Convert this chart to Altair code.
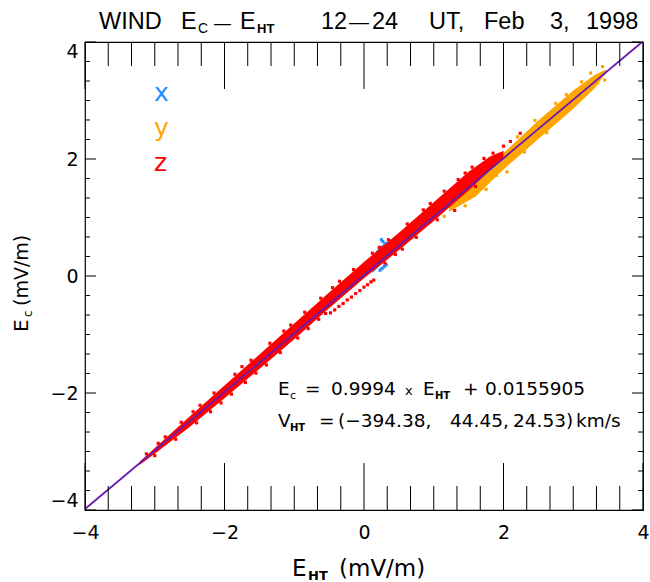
import altair as alt
import pandas as pd

# ---------------- data ----------------
components = ["x", "y", "z"]
comp_colors = ["#1E90FF", "#FFA500", "#FF0000"]

fit_slope = 0.9994
fit_intercept = 0.0155905
fit_x = [-4.0, 4.0]

# envelopes of the dense point clouds (E_HT, lower E_c, upper E_c)
z_band_x = [-3.22, -3.0, -2.5, -2.0, -1.5, -1.0, -0.5, 0.0, 0.5, 1.0, 1.5, 1.8, 2.0]
z_band_hi = [-3.18, -2.94, -2.40, -1.87, -1.34, -0.81, -0.28, 0.24, 0.74, 1.26, 1.78, 2.04, 2.14]
z_band_lo = [-3.23, -3.04, -2.58, -2.09, -1.59, -1.08, -0.55, -0.04, 0.44, 0.94, 1.46, 1.80, 2.02]

y_band_x = [1.22, 1.6, 2.0, 2.5, 3.0, 3.3, 3.47]
y_band_hi = [1.25, 1.62, 2.10, 2.66, 3.17, 3.43, 3.53]
y_band_lo = [1.10, 1.36, 1.82, 2.34, 2.86, 3.20, 3.47]

x_band_x = [0.12, 0.25, 0.4]
x_band_hi = [0.35, 0.52, 0.62]
x_band_lo = [0.05, 0.20, 0.35]

# scattered individual points around the clouds
z_pts_x = [-3.12, -2.85, -2.62, -2.35, -2.15, -1.85, -1.62, -1.35, -1.15, -0.85, -0.62, -0.35,
           -0.15, 0.12, 0.35, 0.62, 0.85, 1.15, 1.35, 1.55, 1.72, 1.85, 2.0, 2.24, 2.1,
           -3.0, -2.7, -2.4, -2.2, -1.9, -1.7, -1.4, -1.2, -0.95, -0.8, -0.65, 0.3, 0.55, 0.75, 1.05, 1.3,
           -0.48, -0.42, -0.36, -0.30, -0.24, -0.18, -0.12, -0.06, 0.0, 0.05, 0.10, 0.14,
           -2.95, -2.45, -1.75, -1.05, -0.45, 0.22, 0.95, 1.45, -2.05, -1.55, -0.55, 0.45, 1.6]
z_pts_y = [-3.04, -2.75, -2.50, -2.21, -2.00, -1.68, -1.44, -1.15, -0.94, -0.62, -0.38, -0.09,
           0.11, 0.39, 0.62, 0.89, 1.13, 1.45, 1.65, 1.86, 2.01, 2.10, 2.22, 2.44, 2.30,
           -3.07, -2.79, -2.51, -2.32, -2.02, -1.82, -1.52, -1.31, -1.06, -0.90, -0.74, 0.22, 0.46, 0.66, 0.96, 1.12,
           -0.63, -0.58, -0.52, -0.47, -0.41, -0.36, -0.30, -0.25, -0.19, -0.15, -0.10, -0.07,
           -2.86, -2.32, -1.55, -0.84, -0.20, 0.49, 1.24, 1.76, -2.17, -1.66, -0.64, 0.37, 1.53]

y_pts_x = [3.42, 3.25, 3.12, 2.85, 2.62, 2.30, 2.05, 1.75, 1.45, 1.15, 2.75, 2.45, 3.45, 1.25,
           2.2, 2.9, 3.35, 1.9]
y_pts_y = [3.58, 3.47, 3.32, 2.76, 2.45, 2.12, 1.78, 1.48, 1.20, 1.02, 2.95, 2.66, 3.35, 1.15,
           2.38, 3.10, 3.30, 1.72]

x_pts_x = [0.25, 0.27, 0.39, 0.33, 0.36, 0.30, 0.23, 0.26, 0.29, 0.32]
x_pts_y = [0.62, 0.59, 0.60, 0.56, 0.52, 0.55, 0.10, 0.13, 0.16, 0.19]

major_ticks = [-4, -2, 0, 2, 4]
minor_ticks = [-3.667, -3.333, -3.0, -2.667, -2.333, -1.667, -1.333, -1.0, -0.667, -0.333,
               0.333, 0.667, 1.0, 1.333, 1.667, 2.333, 2.667, 3.0, 3.333, 3.667]

title_left = "WIND"
title_hours = ["12", "\u2014", "24"]
title_right = ["UT,", "Feb", "3,", "1998"]
fit_text = ["0.9994", "0.0155905"]
vht_text = ["(\u2212394.38,", "44.45,", "24.53)", "km/s"]

# ---------------- chart ----------------
W, H = 558, 468
FONT = "DejaVu Sans"
TFONT = "Liberation Sans"
xs = alt.Scale(domain=[-4, 4], nice=False, zero=False)
ys = alt.Scale(domain=[-4, 4], nice=False, zero=False)
xaxis = alt.Axis(values=major_ticks, ticks=False, domain=False, grid=False, title=None,
                 labelFont=FONT, labelFontSize=19, labelColor="black", labelPadding=13,
                 labelFlush=False, labelOverlap=False, format="d")
yaxis = alt.Axis(values=major_ticks, ticks=False, domain=False, grid=False, title=None,
                 labelFont=FONT, labelFontSize=19, labelColor="black", labelPadding=7,
                 labelFlush=True, labelOverlap=False, format="d")


def X(f):
    return alt.X(f, type="quantitative", scale=xs, axis=xaxis)


def Y(f):
    return alt.Y(f, type="quantitative", scale=ys, axis=yaxis)


def band(xv, lo, hi, color):
    df = pd.DataFrame({"e": xv, "lo": lo, "hi": hi})
    return alt.Chart(df).mark_area(color=color, opacity=1, interpolate="linear").encode(
        x=X("e"), y=Y("lo"), y2="hi:Q")


def pts(xv, yv, color):
    df = pd.DataFrame({"e": xv, "c": yv})
    return alt.Chart(df).mark_square(color=color, size=10, opacity=1).encode(x=X("e"), y=Y("c"))


layers = []
layers.append(band(x_band_x, x_band_lo, x_band_hi, comp_colors[0]))
layers.append(pts(x_pts_x, x_pts_y, comp_colors[0]))
layers.append(band(y_band_x, y_band_lo, y_band_hi, comp_colors[1]))
layers.append(pts(y_pts_x, y_pts_y, comp_colors[1]))
layers.append(band(z_band_x, z_band_lo, z_band_hi, comp_colors[2]))
layers.append(pts(z_pts_x, z_pts_y, comp_colors[2]))

fit_df = pd.DataFrame({"e": fit_x})
layers.append(alt.Chart(fit_df).mark_line(color="#6A1BB0", strokeWidth=1.8, clip=True)
              .transform_calculate(c=f"{fit_slope} * datum.e + {fit_intercept}")
              .encode(x=X("e"), y=Y("c")))

# ticks
maj = pd.DataFrame({"v": major_ticks})
mnr = pd.DataFrame({"v": minor_ticks})
for df, ln in ((maj, 47), (mnr, 24)):
    layers.append(alt.Chart(df).mark_rule(color="black", strokeWidth=1)
                  .encode(x=X("v"), y=alt.value(H), y2=alt.value(H - ln)))
    layers.append(alt.Chart(df).mark_rule(color="black", strokeWidth=1)
                  .encode(x=X("v"), y=alt.value(0), y2=alt.value(ln)))
for df, ln in ((maj, 11), (mnr, 5)):
    layers.append(alt.Chart(df).mark_rule(color="black", strokeWidth=1)
                  .encode(y=Y("v"), x=alt.value(0), x2=alt.value(ln)))
    layers.append(alt.Chart(df).mark_rule(color="black", strokeWidth=1)
                  .encode(y=Y("v"), x=alt.value(W), x2=alt.value(W - ln)))

one = pd.DataFrame({"k": [0]})


def label(text, px, py, size, color="black", weight="normal", angle=0, font=FONT):
    kw = dict(text=text, fontSize=size, color=color, fontWeight=weight, font=font,
              align="left", baseline="alphabetic")
    if angle:
        kw["angle"] = angle
    return alt.Chart(one).mark_text(**kw).encode(x=alt.value(px - 85), y=alt.value(py - 42))


# title
TF = 23.5
layers += [
    label(title_left, 99, 29, TF, font=TFONT),
    label("E", 181, 29, TF, font=TFONT),
    label("C", 198, 33, 14, font=TFONT),
    label("\u2014", 214, 29, 17, font=TFONT),
    label("E", 240, 29, TF, font=TFONT),
    label("HT", 257, 33, 13, weight="bold", font=TFONT),
    label(title_hours[0], 321, 29, TF, font=TFONT),
    label(title_hours[1], 349, 29, 20, font=TFONT),
    label(title_hours[2], 372, 29, TF, font=TFONT),
]
for t, px in zip(title_right, [429, 484, 550, 586]):
    layers.append(label(t, px, 29, TF, font=TFONT))

# legend
for comp, col, py in zip(components, comp_colors, [101, 136, 171]):
    layers.append(label(comp, 154, py, 25, color=col))

# annotation
AF = 18.5
layers += [
    label("E", 278, 395, AF),
    label("c", 290, 399, 11),
    label("=", 305, 395, AF),
    label(fit_text[0], 331, 395, AF),
    label("x", 405, 395, 13),
    label("E", 423, 395, AF),
    label("HT", 435, 399, 10, weight="bold"),
    label("+", 463, 395, AF),
    label(fit_text[1], 485, 395, AF),
    label("V", 278, 427, AF),
    label("HT", 290, 431, 10, weight="bold"),
    label("=", 319, 427, AF),
]
for t, px in zip(vht_text, [338, 450, 513, 576]):
    layers.append(label(t, px, 427, AF))

# axis titles
layers += [
    label("E", 292, 576, 23),
    label("HT", 308, 580, 13, weight="bold"),
    label("(mV/m)", 339, 576, 23),
    label("E", 28, 332, 20, angle=270),
    label("c", 32, 317, 12, angle=270),
    label("(mV/m)", 28, 306, 19, angle=270),
]

chart = alt.layer(*layers).properties(
    width=W, height=H,
    autosize=alt.AutoSizeParams(type="none"),
    padding={"left": 85, "top": 42, "right": 7, "bottom": 72},
    background="white",
).configure_view(stroke="black", strokeWidth=1.2)

chart.save("out.html", embed_options={"renderer": "svg", "actions": False})
